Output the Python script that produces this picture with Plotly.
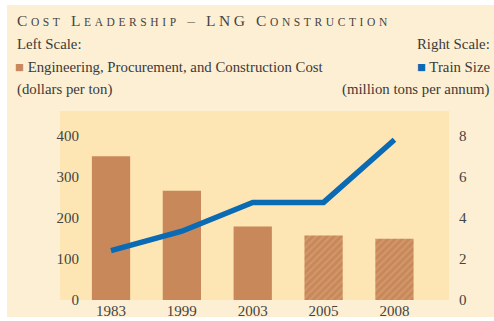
import plotly.graph_objects as go

years = ["1983", "1999", "2003", "2005", "2008"]
epc_cost = [350, 266, 179, 157, 149]          # dollars per ton (left scale)
train_size = [2.4, 3.35, 4.75, 4.75, 7.8]     # million tons per annum (right scale)
projected = [False, False, False, True, True]

bar_color = "#c8885a"
line_color = "#0a6ab4"
text_color = "#3a3a3a"
serif = "Liberation Serif, Times New Roman, serif"

fig = go.Figure()

fig.add_trace(go.Bar(
    x=years, y=epc_cost, width=0.54,
    marker=dict(
        color=bar_color,
        line=dict(width=0),
        pattern=dict(
            shape=["/" if p else "" for p in projected],
            fgcolor="#dcaa80", bgcolor=bar_color, size=5, solidity=0.35,
        ),
    ),
    showlegend=False, hoverinfo="skip",
))

fig.add_trace(go.Scatter(
    x=years, y=train_size, yaxis="y2", mode="lines",
    line=dict(color=line_color, width=5.5),
    showlegend=False, hoverinfo="skip",
))

# plot area geometry in pixels
W, H = 494, 321
L, R, T, B = 60, 45, 111, 21
pw, ph = W - L - R, H - T - B

def px(x):
    return (x - L) / pw

def py(y):
    return (H - B - y) / ph

shapes = [
    dict(type="rect", xref="paper", yref="paper",
         x0=px(7), x1=px(494), y0=py(317), y1=py(5),
         fillcolor="#fdefd3", line=dict(width=0), layer="below"),
    dict(type="rect", xref="paper", yref="paper",
         x0=0, x1=1, y0=0, y1=1,
         fillcolor="#fde6b3", line=dict(width=0), layer="below"),
]

sc = "font-size:11.5px"
title = (f"<span style='letter-spacing:3.6px'>C<span style='{sc}'>OST</span> "
         f"L<span style='{sc}'>EADERSHIP</span> – "
         f"LNG C<span style='{sc}'>ONSTRUCTION</span></span>")

annotations = [
    dict(text=title, x=px(15), y=py(20), xanchor="left", yanchor="middle",
         font=dict(size=15.5, color="#444444", family=serif)),
    dict(text="Left Scale:", x=px(15), y=py(44), xanchor="left", yanchor="middle"),
    dict(text="Right Scale:", x=px(492), y=py(44), xanchor="right", yanchor="middle"),
    dict(text=f"<span style='color:{bar_color}'>■</span> Engineering, Procurement, and Construction Cost",
         x=px(13), y=py(67), xanchor="left", yanchor="middle"),
    dict(text=f"<span style='color:{line_color}'>■</span> Train Size",
         x=px(492), y=py(67), xanchor="right", yanchor="middle"),
    dict(text="(dollars per ton)", x=px(15), y=py(90), xanchor="left", yanchor="middle"),
    dict(text="(million tons per annum)", x=px(492), y=py(90), xanchor="right", yanchor="middle"),
]
for a in annotations:
    a.update(xref="paper", yref="paper", showarrow=False)
    a.setdefault("font", dict(size=14.8, color=text_color, family=serif))

tick_font = dict(family=serif, size=15, color="#444444")

fig.update_layout(
    width=W, height=H,
    margin=dict(l=L, r=R, t=T, b=B, pad=0),
    paper_bgcolor="white",
    plot_bgcolor="#fde6b3",
    font=dict(family=serif, size=15, color="#444444"),
    xaxis=dict(
        type="category", range=[-0.72, 4.77], automargin=False,
        showgrid=False, zeroline=False, showline=False,
        ticks="", ticklabelstandoff=0, tickfont=tick_font,
    ),
    yaxis=dict(
        range=[0, 460], tickvals=[0, 100, 200, 300, 400], automargin=False,
        showgrid=False, zeroline=False, showline=False,
        ticks="", ticklabelstandoff=-20, tickfont=tick_font,
    ),
    yaxis2=dict(
        overlaying="y", side="right", range=[0, 9.2], automargin=False,
        tickvals=[0, 2, 4, 6, 8],
        showgrid=False, zeroline=False, showline=False,
        ticks="", ticklabelstandoff=9, tickfont=tick_font,
    ),
    shapes=shapes,
    annotations=annotations,
)

fig.write_html("out.html")
